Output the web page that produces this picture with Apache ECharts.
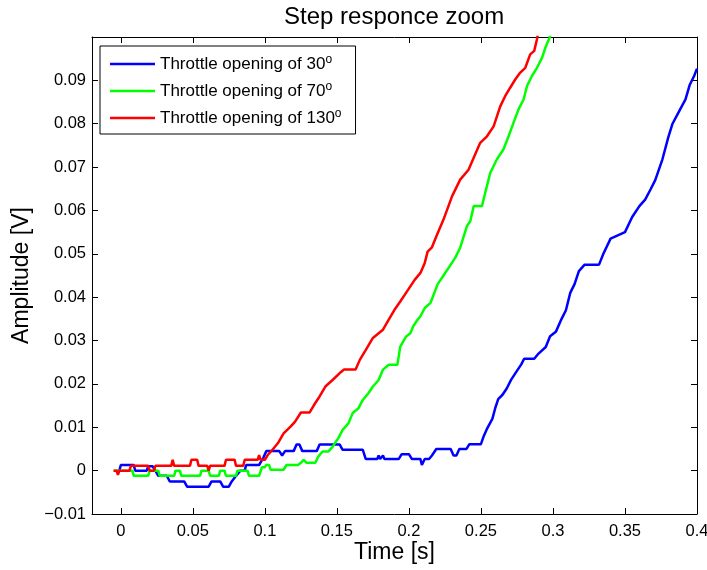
<!DOCTYPE html>
<html><head><meta charset="utf-8">
<script src="https://cdn.jsdelivr.net/npm/echarts@6/dist/echarts.min.js"></script>
<style>html,body{margin:0;padding:0;background:#fff}#c{width:707px;height:570px}</style>
</head><body><div id="c"></div>
<script>
const FONT = '"Liberation Sans", Arial, Helvetica, sans-serif';
const titleText = 'Step responce zoom';
const xName = 'Time [s]';
const yName = 'Amplitude [V]';
const xTicks = [0, 0.05, 0.1, 0.15, 0.2, 0.25, 0.3, 0.35, 0.4];
const yTicks = [-0.01, 0, 0.01, 0.02, 0.03, 0.04, 0.05, 0.06, 0.07, 0.08, 0.09];
const seriesNames = ['Throttle opening of 30', 'Throttle opening of 70', 'Throttle opening of 130'];
const seriesColors = ['#0000ff', '#00ff00', '#ff0000'];

// [time s, amplitude V]
const open30 = [[-0.003,0],[-0.001,0],[0.000,0.0013],[0.009,0.0013],[0.010,0],[0.018,0],[0.019,0.001],[0.022,0.001],[0.024,0],[0.026,-0.0012],[0.032,-0.0012],[0.034,-0.0025],[0.044,-0.0025],[0.046,-0.0037],[0.061,-0.0037],[0.063,-0.0025],[0.069,-0.0025],[0.071,-0.0037],[0.075,-0.0037],[0.077,-0.0025],[0.080,-0.0012],[0.083,0],[0.086,0],[0.087,0.0013],[0.096,0.0013],[0.099,0.003],[0.101,0.0045],[0.110,0.0045],[0.112,0.0035],[0.114,0.0045],[0.120,0.0045],[0.122,0.006],[0.124,0.006],[0.126,0.0045],[0.136,0.0045],[0.138,0.006],[0.152,0.006],[0.154,0.0048],[0.168,0.0048],[0.170,0.0027],[0.178,0.0027],[0.179,0.0035],[0.180,0.0027],[0.182,0.0035],[0.183,0.0027],[0.193,0.0027],[0.195,0.0038],[0.200,0.0038],[0.202,0.0027],[0.208,0.0027],[0.209,0.0013],[0.211,0.0027],[0.214,0.0027],[0.216,0.0035],[0.219,0.005],[0.229,0.005],[0.231,0.0035],[0.233,0.0035],[0.235,0.005],[0.240,0.005],[0.242,0.0061],[0.250,0.0061],[0.252,0.008],[0.254,0.0095],[0.258,0.012],[0.260,0.0145],[0.262,0.0165],[0.265,0.0175],[0.268,0.019],[0.271,0.021],[0.275,0.023],[0.278,0.0245],[0.280,0.0258],[0.287,0.0258],[0.290,0.027],[0.295,0.0285],[0.298,0.031],[0.302,0.032],[0.306,0.035],[0.309,0.037],[0.312,0.041],[0.315,0.043],[0.318,0.046],[0.322,0.0475],[0.332,0.0475],[0.335,0.050],[0.340,0.0535],[0.350,0.055],[0.355,0.0585],[0.360,0.061],[0.364,0.0625],[0.368,0.065],[0.371,0.067],[0.376,0.0718],[0.380,0.0768],[0.383,0.080],[0.387,0.0825],[0.392,0.0856],[0.395,0.089],[0.398,0.091],[0.400,0.0927]];

const open70 = [[-0.005,0],[0.008,0],[0.009,-0.0012],[0.019,-0.0012],[0.020,0],[0.026,0],[0.027,-0.0012],[0.037,-0.0012],[0.038,0],[0.041,0],[0.042,-0.0012],[0.055,-0.0012],[0.056,0],[0.061,0],[0.062,-0.0012],[0.068,-0.0012],[0.069,0],[0.072,0],[0.073,-0.0012],[0.080,-0.0012],[0.081,0],[0.088,0],[0.089,-0.0012],[0.096,-0.0012],[0.098,0.0008],[0.100,0.0008],[0.101,0.0013],[0.103,0.0013],[0.104,0.0002],[0.113,0.0002],[0.115,0.0013],[0.123,0.0013],[0.125,0.0018],[0.127,0.0025],[0.129,0.0018],[0.135,0.0018],[0.137,0.0032],[0.140,0.0044],[0.144,0.0044],[0.147,0.0055],[0.151,0.0075],[0.154,0.0094],[0.158,0.0109],[0.161,0.0133],[0.165,0.0144],[0.168,0.0163],[0.172,0.0179],[0.175,0.0194],[0.179,0.0209],[0.182,0.0233],[0.186,0.0244],[0.192,0.0244],[0.194,0.0286],[0.198,0.0309],[0.201,0.0317],[0.203,0.0333],[0.206,0.0348],[0.208,0.0356],[0.211,0.0375],[0.215,0.0387],[0.220,0.043],[0.224,0.045],[0.228,0.047],[0.232,0.049],[0.2356,0.0514],[0.2403,0.0564],[0.2426,0.0575],[0.245,0.061],[0.2507,0.061],[0.253,0.0641],[0.2565,0.0687],[0.2611,0.0718],[0.2657,0.0741],[0.2692,0.0771],[0.2726,0.0802],[0.2761,0.0833],[0.2796,0.0856],[0.282,0.0887],[0.2854,0.091],[0.2889,0.0929],[0.2924,0.0952],[0.2947,0.0975],[0.2977,0.0999],[0.2990,0.1015]];

const open130 = [[-0.005,0],[-0.003,0],[-0.002,-0.001],[-0.001,0],[0.006,0],[0.007,0.0011],[0.019,0.0011],[0.020,0],[0.023,0],[0.024,0.0011],[0.035,0.0011],[0.036,0.0025],[0.037,0.0011],[0.048,0.0011],[0.049,0.0025],[0.053,0.0025],[0.054,0.0011],[0.060,0.0011],[0.061,0],[0.062,0.0011],[0.072,0.0011],[0.073,0.0025],[0.079,0.0025],[0.080,0.0011],[0.085,0.0011],[0.086,0.0025],[0.095,0.0025],[0.096,0.0036],[0.097,0.0025],[0.100,0.0025],[0.102,0.0036],[0.105,0.0047],[0.109,0.0063],[0.113,0.0086],[0.118,0.0102],[0.121,0.0113],[0.125,0.0134],[0.131,0.0134],[0.135,0.0156],[0.138,0.0171],[0.142,0.0194],[0.147,0.0209],[0.152,0.0225],[0.155,0.0233],[0.163,0.0233],[0.166,0.0256],[0.170,0.0278],[0.175,0.0306],[0.179,0.0317],[0.182,0.0325],[0.186,0.0348],[0.190,0.0371],[0.194,0.039],[0.198,0.041],[0.201,0.0425],[0.204,0.044],[0.208,0.0456],[0.211,0.0479],[0.213,0.0505],[0.216,0.0515],[0.219,0.054],[0.224,0.0579],[0.230,0.0633],[0.2356,0.0671],[0.2414,0.0694],[0.2449,0.0721],[0.2495,0.0756],[0.2542,0.0771],[0.2588,0.0794],[0.2634,0.084],[0.2669,0.0864],[0.2703,0.0883],[0.2738,0.0902],[0.2773,0.0918],[0.2808,0.0929],[0.2842,0.096],[0.287,0.0968],[0.2889,0.0995],[0.2900,0.1015]];

const seriesData = [open30, open70, open130];

function fmt(v) {
  const s = String(Math.round(v * 1000) / 1000);
  return s.replace('-', '\u2212');
}
const X_MIN = -0.02, X_MAX = 0.4, Y_MIN = -0.01, Y_MAX = 0.1;

function mkX(pos, main) {
  return {
    type: 'value', min: X_MIN, max: X_MAX, position: pos,
    axisLine: { show: true, onZero: false, lineStyle: { color: '#000', width: 1 } },
    axisTick: { show: true, inside: true, length: 6, customValues: xTicks, lineStyle: { color: '#000', width: 1 } },
    axisLabel: { show: main, customValues: xTicks, formatter: fmt, fontSize: 16.5, color: '#000', margin: 9, fontFamily: FONT },
    splitLine: { show: false },
    name: main ? xName : '', nameLocation: 'middle', nameGap: 27, nameMoveOverlap: false,
    nameTextStyle: { fontSize: 23, color: '#000', fontFamily: FONT }
  };
}
function mkY(pos, main) {
  return {
    type: 'value', min: Y_MIN, max: Y_MAX, position: pos,
    axisLine: { show: true, onZero: false, lineStyle: { color: '#000', width: 1 } },
    axisTick: { show: true, inside: true, length: 6, customValues: yTicks, lineStyle: { color: '#000', width: 1 } },
    axisLabel: { show: main, customValues: yTicks, formatter: fmt, fontSize: 16.5, color: '#000', margin: 6, fontFamily: FONT },
    splitLine: { show: false },
    name: main ? yName : '', nameLocation: 'middle', nameGap: 57,
    nameTextStyle: { fontSize: 23, color: '#000', fontFamily: FONT }
  };
}

const chart = echarts.init(document.getElementById('c'), null, { renderer: 'canvas' });
chart.setOption({
  animation: false,
  backgroundColor: '#fff',
  title: {
    text: titleText, left: 284, top: 5, padding: 0,
    textStyle: { fontFamily: FONT, fontSize: 24, fontWeight: 'normal', color: '#000' }
  },
  grid: { left: 92, right: 10, top: 37, bottom: 56, containLabel: false, outerBoundsMode: 'none' },
  legend: {
    orient: 'vertical', left: 100, top: 46,
    itemWidth: 45, itemHeight: 2.5, itemGap: 7, icon: 'rect',
    padding: [8, 14, 6, 10],
    borderColor: '#000', borderWidth: 1, backgroundColor: '#fff',
    data: seriesNames,
    formatter: n => n + '{sup|o}',
    textStyle: {
      fontFamily: FONT, fontSize: 17, color: '#000', lineHeight: 20,
      rich: { sup: { fontFamily: FONT, fontSize: 12, color: '#000', verticalAlign: 'top', lineHeight: 20 } }
    }
  },
  xAxis: [mkX('bottom', true), mkX('top', false)],
  yAxis: [mkY('left', true), mkY('right', false)],
  series: seriesNames.map((n, i) => ({
    name: n, type: 'line', xAxisIndex: 0, yAxisIndex: 0,
    data: seriesData[i], symbol: 'none', clip: true,
    lineStyle: { color: seriesColors[i], width: 2.5 }, itemStyle: { color: seriesColors[i] }
  }))
});
</script></body></html>
